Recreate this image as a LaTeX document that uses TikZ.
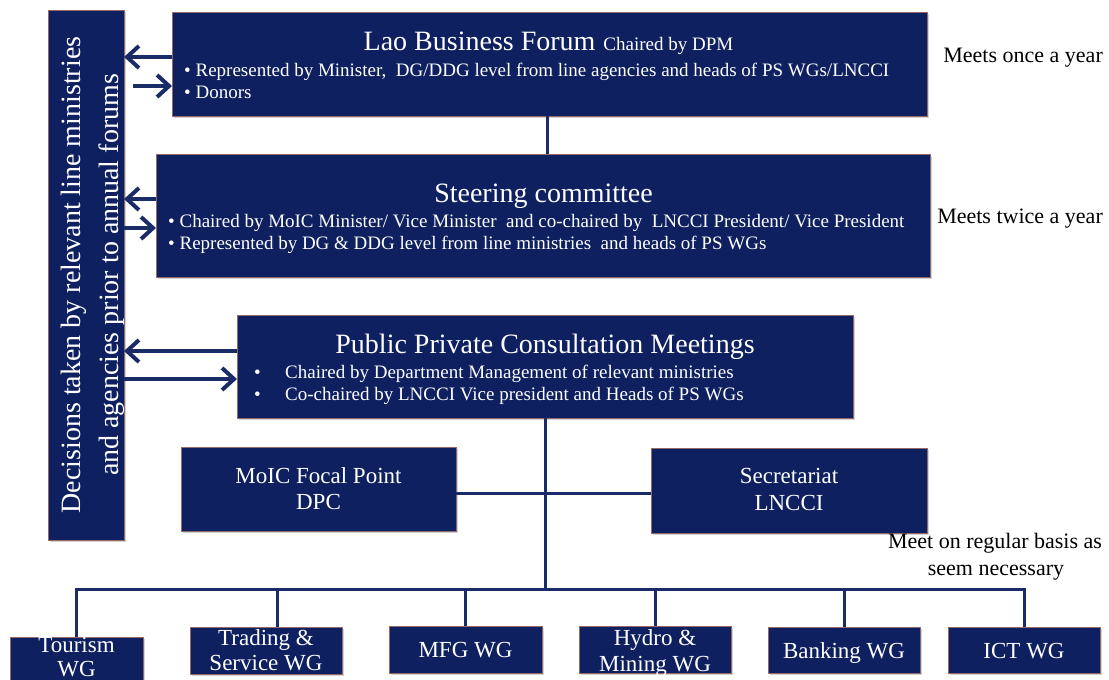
\documentclass[tikz,border=0pt]{standalone}
\usepackage{fontspec}
\setmainfont{Liberation Serif}
\usetikzlibrary{arrows.meta,calc,shadows}

\definecolor{navy}{RGB}{14,32,96}
\definecolor{linenavy}{RGB}{26,44,104}
\definecolor{rim}{RGB}{150,105,105}

\tikzset{
  box/.style={draw=rim, line width=0.7pt, fill=navy, inner sep=0pt, outer sep=0pt,
    drop shadow={shadow xshift=1.5pt, shadow yshift=-1.5pt, opacity=0.35}},
  wtxt/.style={text=white, inner sep=0pt, anchor=base},
  btxt/.style={text=black, inner sep=0pt, anchor=base},
  conn/.style={draw=linenavy, line width=3pt},
  arr/.style={draw=linenavy, line width=4pt, -{Straight Barb[length=12pt,width=22pt]}},
  huge/.style={font=\fontsize{28}{34}\selectfont},
  big/.style={font=\fontsize{23}{27}\selectfont},
  mid/.style={font=\fontsize{22}{26}\selectfont},
  small/.style={font=\fontsize{19}{23}\selectfont},
}

\begin{document}
\begin{tikzpicture}[x=1pt,y=-1pt]
\useasboundingbox (0,0) rectangle (1109,680);
\clip (0,0) rectangle (1109,680);

% ---- boxes ----
\node[box, minimum width=76,  minimum height=530] (dec)  at (86,275)    {};
\node[box, minimum width=755, minimum height=104] (lbf)  at (549.5,64)  {};
\node[box, minimum width=774, minimum height=123] (sc)   at (543,215.5) {};
\node[box, minimum width=616, minimum height=103] (ppcm) at (545,366.5) {};
\node[box, minimum width=275, minimum height=84]  (moic) at (318.5,489) {};
\node[box, minimum width=276, minimum height=85]  (sec)  at (789,490.5) {};
\node[box, minimum width=133, minimum height=63]  (tour) at (76.5,668.5) {};
\node[box, minimum width=152, minimum height=47]  (trd)  at (266,650.5) {};
\node[box, minimum width=153, minimum height=47]  (mfg)  at (465.5,649.5) {};
\node[box, minimum width=152, minimum height=47]  (hyd)  at (655,649.5) {};
\node[box, minimum width=152, minimum height=46]  (bank) at (844,650)   {};
\node[box, minimum width=152, minimum height=46]  (ict)  at (1024,650)  {};

% ---- side column text ----
\node[wtxt, huge, rotate=90] (dec1) at (80,275)  {Decisions taken by relevant line ministries};
\node[wtxt, huge, rotate=90] (dec2) at (118,275) {and agencies prior to annual forums};

% ---- Lao Business Forum ----
\node[wtxt] (lbft) at (548.5,50) {{\fontsize{28}{34}\selectfont Lao Business Forum}\hspace{8pt}{\fontsize{19}{23}\selectfont Chaired by DPM}};
\node[wtxt, small, anchor=base west] (lbf1) at (184,76) {• Represented by Minister,\ \ DG/DDG level from line agencies and heads of PS WGs/LNCCI};
\node[wtxt, small, anchor=base west] (lbf2) at (184,98) {• Donors};

% ---- Steering committee ----
\node[wtxt, huge] (sct) at (543.5,202) {Steering committee};
\node[wtxt, small, anchor=base west] (sc1) at (168,227) {• Chaired by MoIC Minister/ Vice Minister\ \ and co-chaired by\ \ LNCCI President/ Vice President};
\node[wtxt, small, anchor=base west] (sc2) at (168,249) {• Represented by DG \& DDG level from line ministries\ \ and heads of PS WGs};

% ---- Public Private Consultation Meetings ----
\node[wtxt, huge] (ppt) at (545,353) {Public Private Consultation Meetings};
\node[wtxt, small, anchor=base west] (pp1) at (254,378) {\makebox[31pt][l]{•}Chaired by Department Management of relevant ministries};
\node[wtxt, small, anchor=base west] (pp2) at (254,400) {\makebox[31pt][l]{•}Co-chaired by LNCCI Vice president and Heads of PS WGs};

% ---- focal point and secretariat ----
\node[wtxt, big] (moic1) at (318.5,483) {MoIC Focal Point};
\node[wtxt, big] (moic2) at (318.5,509) {DPC};
\node[wtxt, big] (sec1)  at (789,483)   {Secretariat};
\node[wtxt, big] (sec2)  at (789,510)   {LNCCI};

% ---- working groups ----
\node[wtxt, big] (tour1) at (76.5,652) {Tourism};
\node[wtxt, big] (tour2) at (76.5,676) {WG};
\node[wtxt, big] (trd1)  at (266,645)  {Trading \&};
\node[wtxt, big] (trd2)  at (266,670)  {Service WG};
\node[wtxt, big] (mfg1)  at (465.5,657) {MFG WG};
\node[wtxt, big] (hyd1)  at (655,645)  {Hydro \&};
\node[wtxt, big] (hyd2)  at (655,671)  {Mining WG};
\node[wtxt, big] (bank1) at (844,658)  {Banking WG};
\node[wtxt, big] (ict1)  at (1024,658) {ICT WG};

% ---- meeting frequency notes ----
\node[btxt, mid, anchor=base east] (f1) at (1103,62)  {Meets once a year};
\node[btxt, mid, anchor=base east] (f2) at (1103,223) {Meets twice a year};
\node[btxt, mid] (f3a) at (995,548) {Meet on regular basis as};
\node[btxt, mid] (f3b) at (996,575) {seem necessary};

% ---- connectors ----
\coordinate (c1) at ($(lbf.south)+(-2.5,0)$);
\draw[conn] (c1) -- (c1 |- sc.north);

\coordinate (bus) at (545,589);
\coordinate (hub) at (545,493);
\draw[conn] (ppcm.south) -- (bus);
\draw[conn] (moic.east |- hub) -- (sec.west |- hub);
\draw[conn] (tour.north) -- (tour.north |- bus) -- (ict.north |- bus) -- (ict.north);
\coordinate (td) at ($(trd.north)+(11,0)$);
\draw[conn] (td) -- (td |- bus);
\foreach \w in {mfg,hyd,bank}
  \draw[conn] (\w.north) -- (\w.north |- bus);

% ---- arrows to and from the decisions column ----
\coordinate (a1) at ($(lbf.west)+(0,-7)$);
\coordinate (a2) at ($(lbf.west)+(0,22)$);
\draw[arr] (a1) -- (dec.east |- a1);
\draw[arr] ($(dec.east |- a2)+(9,0)$) -- (a2);

\coordinate (b1) at ($(sc.west)+(0,-16.5)$);
\coordinate (b2) at ($(sc.west)+(0,12.5)$);
\draw[arr] (b1) -- (dec.east |- b1);
\draw[arr] (dec.east |- b2) -- (b2);

\coordinate (p1) at ($(ppcm.west)+(0,-15.5)$);
\coordinate (p2) at ($(ppcm.west)+(0,12.5)$);
\draw[arr] (p1) -- (dec.east |- p1);
\draw[arr] (dec.east |- p2) -- (p2);
\end{tikzpicture}
\end{document}
